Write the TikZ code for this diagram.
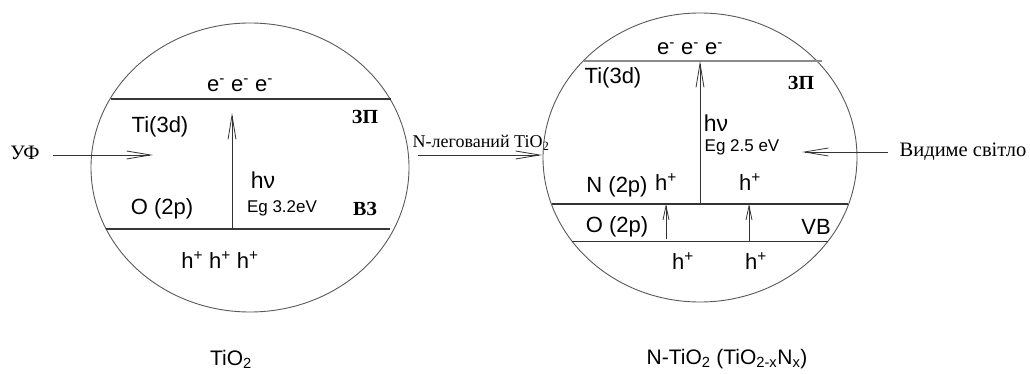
\documentclass[tikz,border=0pt]{standalone}
\usepackage{fontspec}
\setmainfont{Liberation Serif}
\newfontfamily\arialf{Liberation Sans}
\usetikzlibrary{arrows.meta,shapes.geometric}
\begin{document}
\begin{tikzpicture}[x=1pt,y=-1pt,
  lbl/.style={inner sep=0pt, font=\arialf\fontsize{22}{22}\selectfont},
  hnu/.style={inner sep=0pt, font=\arialf\fontsize{23}{23}\selectfont},
  eglbl/.style={inner sep=0pt, font=\arialf\fontsize{17}{17}\selectfont},
  botlbl/.style={inner sep=0pt, font=\arialf\fontsize{21}{21}\selectfont},
  bandname/.style={inner sep=0pt, font=\bfseries\fontsize{20}{20}\selectfont},
  serlbl/.style={inner sep=0pt, font=\fontsize{20.5}{20.5}\selectfont},
  ell/.style={ellipse, draw=black!65, line width=0.9pt, inner sep=0pt},
  thickband/.style={draw=black!78, line width=2pt},
  grayband/.style={draw=black!45, line width=2pt},
  thinband/.style={draw=black!80, line width=1pt},
  bigarr/.style={draw=black!80, line width=0.8pt, -{Straight Barb[length=24pt,width=8pt]}},
  smallarr/.style={draw=black!80, line width=0.8pt, -{Straight Barb[length=14pt,width=6pt]}},
]
\useasboundingbox (0,0) rectangle (1030,374);

% ---------- left ellipse (TiO2) ----------
\node[ell, minimum width=318pt, minimum height=289pt] (L) at (250,167.5) {};
\coordinate (LcbW) at (111,99);  \coordinate (LcbE) at (391,99);
\coordinate (LvbW) at (106,229); \coordinate (LvbE) at (390,229);
\draw[thickband] (LcbW) -- (LcbE);
\draw[thickband] (LvbW) -- (LvbE);

\node[lbl] (Lee) at (240,85) {e\textsuperscript{-} e\textsuperscript{-} e\textsuperscript{-}};
\node[lbl] (Lti) at (160,127) {Ti(3d)};
\node[bandname] (Lcb) at (365,117) {ЗП};
\node[lbl] (Lo) at (162,209) {O (2p)};
\node[bandname] (Lvb) at (365,209) {ВЗ};
\node[hnu] (Lhv) at (263,180) {hν};
\node[eglbl] (Leg) at (282,208) {Eg 3.2eV};
\node[lbl] (Lhh) at (220,260) {h\textsuperscript{+} h\textsuperscript{+} h\textsuperscript{+}};
\coordinate (LupS) at (232,229); \coordinate (LupE) at (232,113);
\draw[bigarr] (LupS) -- (LupE);

\node[serlbl] (uv) at (25,153) {УФ};
\coordinate (uvS) at (53,155); \coordinate (uvE) at (153,155);
\draw[bigarr] (uvS) -- (uvE);

\node[botlbl] (Lname) at (231,359) {TiO\textsubscript{2}};

% ---------- arrow between ----------
\node[inner sep=0pt, font=\fontsize{18}{18}\selectfont] (dop) at (481,143) {N-легований TiO\textsubscript{2}};
\coordinate (dopS) at (418,155); \coordinate (dopE) at (542,155);
\draw[bigarr] (dopS) -- (dopE);

% ---------- right ellipse (N-TiO2) ----------
\node[ell, minimum width=314pt, minimum height=289pt] (R) at (700,157.5) {};
\coordinate (RcbW) at (584,61);  \coordinate (RcbE) at (822,61);
\coordinate (RnW) at (552,204);  \coordinate (RnE) at (848,204);
\coordinate (RvbW) at (572,241); \coordinate (RvbE) at (828,241);
\draw[grayband] (RcbW) -- (RcbE);
\draw[thinband] (RnW) -- (RnE);
\draw[thinband] (RvbW) -- (RvbE);

\node[lbl] (Ree) at (690,49) {e\textsuperscript{-} e\textsuperscript{-} e\textsuperscript{-}};
\node[lbl] (Rti) at (613,78) {Ti(3d)};
\node[bandname] (Rcb) at (801,83) {ЗП};
\node[hnu] (Rhv) at (716,123) {hν};
\node[eglbl] (Reg) at (742,147) {Eg 2.5 eV};
\node[lbl] (Rn) at (617,187) {N (2p)};
\node[lbl] (Rh1) at (666,182) {h\textsuperscript{+}};
\node[lbl] (Rh2) at (750,182) {h\textsuperscript{+}};
\node[lbl] (Ro) at (617,227) {O (2p)};
\node[lbl] (Rvb) at (816,227) {VB};
\node[lbl] (Rh3) at (683,261) {h\textsuperscript{+}};
\node[lbl] (Rh4) at (756,261) {h\textsuperscript{+}};

\coordinate (RupS) at (700,204); \coordinate (RupE) at (700,61);
\draw[bigarr] (RupS) -- (RupE);
\coordinate (Ra1S) at (666,239); \coordinate (Ra1E) at (666,204);
\coordinate (Ra2S) at (749,241); \coordinate (Ra2E) at (749,204);
\draw[smallarr] (Ra1S) -- (Ra1E);
\draw[smallarr] (Ra2S) -- (Ra2E);

\node[serlbl] (vis) at (963,152) {Видиме світло};
\coordinate (visS) at (888,152); \coordinate (visE) at (802,152);
\draw[bigarr] (visS) -- (visE);

\node[botlbl] (Rname) at (727,359) {N-TiO\textsubscript{2} (TiO\textsubscript{2-x}N\textsubscript{x})};
\end{tikzpicture}
\end{document}
